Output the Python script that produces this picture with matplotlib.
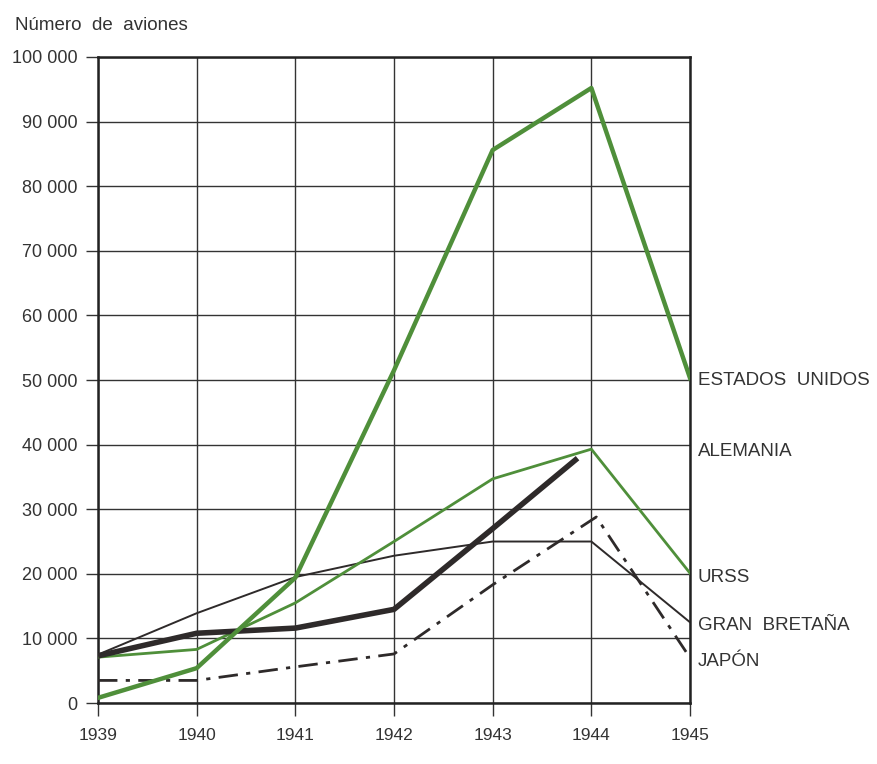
import matplotlib
matplotlib.use("Agg")
import matplotlib.pyplot as plt

plt.rcParams['font.family'] = ['Liberation Sans', 'DejaVu Sans']

years = [1939, 1940, 1941, 1942, 1943, 1944, 1945]
estados_unidos = [800, 5400, 19400, 51500, 85600, 95200, 50300]
urss = [7100, 8300, 15500, 25000, 34700, 39300, 20100]
gran_bretana = [7500, 13900, 19500, 22800, 25000, 25000, 12500]
japon = [3500, 3500, 5600, 7600, 18300, 28800, 7000]
japon_x = [1939, 1940, 1941, 1942, 1943, 1944.05, 1945]
alemania_x = [1939, 1940, 1941, 1942, 1943, 1943.86]
alemania = [7300, 10800, 11600, 14500, 27000, 37900]

right_labels = ["ESTADOS  UNIDOS", "ALEMANIA", "URSS", "GRAN  BRETAÑA", "JAPÓN"]
label_y = [50000, 39000, 19500, 12000, 6500]

yticks = list(range(0, 100001, 10000))
ytick_labels = ["0"] + ["{:,}".format(v).replace(",", " ") for v in yticks[1:]]

green = "#4f8f3a"
dark = "#2e2a2a"
text_col = "#333333"

fig = plt.figure(figsize=(8.78, 7.64), dpi=100)
ax = fig.add_axes([0.1116, 0.0798, 0.6743, 0.8456])

ax.plot(years, gran_bretana, color=dark, lw=1.4, zorder=3)
ax.plot(japon_x, japon, color=dark, lw=2.0, dashes=[7, 3, 1.5, 3], zorder=3)
ax.plot(years, urss, color=green, lw=2.0, zorder=4)
ax.plot(alemania_x, alemania, color=dark, lw=4.0, solid_capstyle='butt', zorder=4)
ax.plot(years, estados_unidos, color=green, lw=3.2, zorder=5)

ax.set_xlim(1939, 1945)
ax.set_ylim(0, 100000)
ax.set_xticks(years)
ax.set_xticklabels([str(y) for y in years], fontsize=12.5, color=text_col)
ax.set_yticks(yticks)
ax.set_yticklabels(ytick_labels, fontsize=13, color=text_col)
ax.grid(True, color="#333333", lw=1.0)
ax.set_axisbelow(True)
for s in ax.spines.values():
    s.set_color("#222222")
    s.set_linewidth(1.8)
ax.tick_params(axis='y', length=9, width=1.0, color="#333333", pad=6)
ax.tick_params(axis='x', length=9, width=1.0, color="#333333", pad=9)

for lab, yv in zip(right_labels, label_y):
    ax.text(1945.08, yv, lab, fontsize=13.5, va='center', ha='left', color=text_col)

fig.text(0.017, 0.967, "Número  de  aviones", fontsize=13.5, color=text_col, va='center')

fig.savefig("out.png", dpi=100, facecolor="white")
